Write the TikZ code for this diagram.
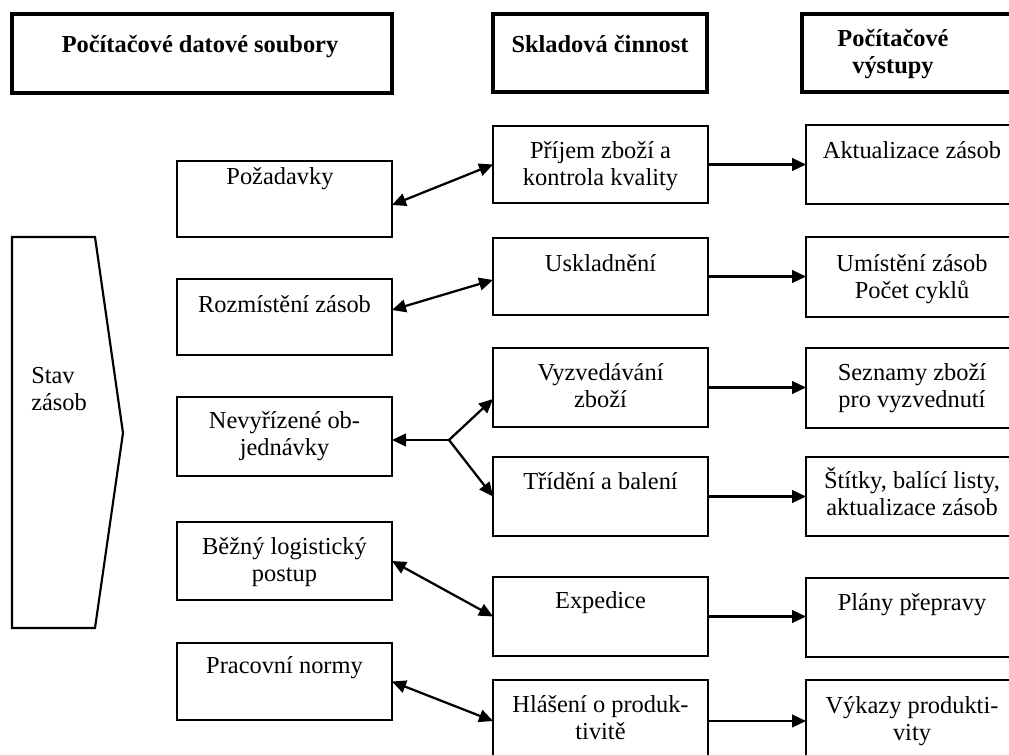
\documentclass[tikz,border=0pt]{standalone}
\usepackage{fontspec}
\setmainfont{Liberation Serif}
\usetikzlibrary{arrows.meta}
\newcommand\mlc[1]{\begin{tabular}[t]{@{}c@{}}#1\end{tabular}}
\newcommand\mll[1]{\begin{tabular}[t]{@{}l@{}}#1\end{tabular}}
\newcommand\mkbox[6]{\node[#6, minimum width=#4*0.75pt, minimum height=#5*0.75pt, anchor=north west] (#1) at (#2,#3) {};}
\begin{document}
\begin{tikzpicture}[x=0.75pt,y=-0.75pt,
  box/.style={draw, line width=1.6pt, inner sep=0pt, outer sep=0pt},
  hbox/.style={draw, line width=2.4pt, inner sep=0pt, outer sep=0pt},
  txt/.style={anchor=base, inner sep=0pt, font=\fontsize{18.3}{20.25}\selectfont},
  htxt/.style={anchor=base, inner sep=0pt, font=\fontsize{18.3}{20.25}\selectfont\bfseries},
  link/.style={line width=1.7pt, -{Triangle[length=10.5pt,width=9.5pt]}},
  dlink/.style={line width=1.7pt, {Triangle[length=10.5pt,width=9.5pt]}-{Triangle[length=10.5pt,width=9.5pt]}}]
\useasboundingbox (0,0) rectangle (1009,755);

% headers
\mkbox{h1}{12}{14}{380}{79}{hbox}
\mkbox{h2}{493}{14}{214}{78}{hbox}
\mkbox{h3}{802}{14}{220}{78}{hbox}
\node[htxt] (h1t) at (200,53) {Počítačové datové soubory};
\node[htxt] (h2t) at (600,53) {Skladová činnost};
\node[htxt] (h3t) at (893,47) {\mlc{Počítačové\\výstupy}};

% Stav zasob
\draw[line width=1.6pt, line join=miter] (12,237) -- (95,237) -- (123,433) -- (95,628) -- (12,628) -- cycle;
\node[txt, anchor=base west] (stavt) at (31,383) {\mll{Stav\\zásob}};

% left column
\mkbox{lp}{177}{161}{215}{76}{box}
\mkbox{lr}{177}{279}{215}{76}{box}
\mkbox{ln}{177}{397}{215}{79}{box}
\mkbox{lb}{177}{522}{215}{78}{box}
\mkbox{lw}{177}{643}{215}{77}{box}
\node[txt] (lpt) at (280,185) {Požadavky};
\node[txt] (lrt) at (284.5,313) {Rozmístění zásob};
\node[txt] (lnt) at (284.5,428) {\mlc{Nevyřízené ob-\\jednávky}};
\node[txt] (lbt) at (284.5,554) {\mlc{Běžný logistický\\postup}};
\node[txt] (lwt) at (284.5,673) {Pracovní normy};

% middle column
\mkbox{mp}{493}{126}{215}{77}{box}
\mkbox{mu}{493}{238}{215}{77}{box}
\mkbox{mv}{493}{348}{215}{79}{box}
\mkbox{mt}{493}{457}{215}{79}{box}
\mkbox{me}{493}{577}{215}{79}{box}
\mkbox{mh}{493}{680}{215}{82}{box}
\node[txt] (mpt) at (600.5,159) {\mlc{Příjem zboží a\\kontrola kvality}};
\node[txt] (mut) at (600.5,272) {Uskladnění};
\node[txt] (mvt) at (600.5,380) {\mlc{Vyzvedávání\\zboží}};
\node[txt] (mtt) at (600.5,489) {Třídění a balení};
\node[txt] (met) at (600.5,608) {Expedice};
\node[txt] (mht) at (600.5,712) {\mlc{Hlášení o produk-\\tivitě}};

% right column
\mkbox{rp}{806}{125}{212}{79}{box}
\mkbox{ru}{806}{237}{212}{80}{box}
\mkbox{rs}{806}{348}{212}{80}{box}
\mkbox{rt}{806}{457}{212}{79}{box}
\mkbox{rl}{806}{578}{212}{79}{box}
\mkbox{rv}{806}{680}{212}{82}{box}
\node[txt] (rpt) at (912,159) {Aktualizace zásob};
\node[txt] (rut) at (912,272) {\mlc{Umístění zásob\\Počet cyklů}};
\node[txt] (rst) at (912,380) {\mlc{Seznamy zboží\\pro vyzvednutí}};
\node[txt] (rtt) at (912,488) {\mlc{Štítky, balící listy,\\aktualizace zásob}};
\node[txt] (rlt) at (912,610) {Plány přepravy};
\node[txt] (rvt) at (912,713) {\mlc{Výkazy produkti-\\vity}};

% left <-> middle
\draw[dlink] ([yshift=-4.5pt]lp.east) -- (mp.west);
\draw[dlink] ([yshift=5.25pt]lr.east) -- ([yshift=-2.6pt]mu.west);
\coordinate (br) at (449,440);
\draw[link] (br) -- (ln.east |- br);
\draw[link] (br) -- ([yshift=-8.6pt]mv.west);
\draw[link] (br) -- (mt.west);
\draw[dlink] (lb.east) -- (me.west);
\draw[dlink] (lw.east) -- (mh.west);

% middle -> right
\draw[link] (mp.east) -- (mp.east -| rp.west);
\draw[link] (mu.east) -- (mu.east -| ru.west);
\draw[link] (mv.east) -- (mv.east -| rs.west);
\draw[link] (mt.east) -- (mt.east -| rt.west);
\draw[link] (me.east) -- (me.east -| rl.west);
\draw[link] (mh.east) -- (mh.east -| rv.west);
\end{tikzpicture}
\end{document}
